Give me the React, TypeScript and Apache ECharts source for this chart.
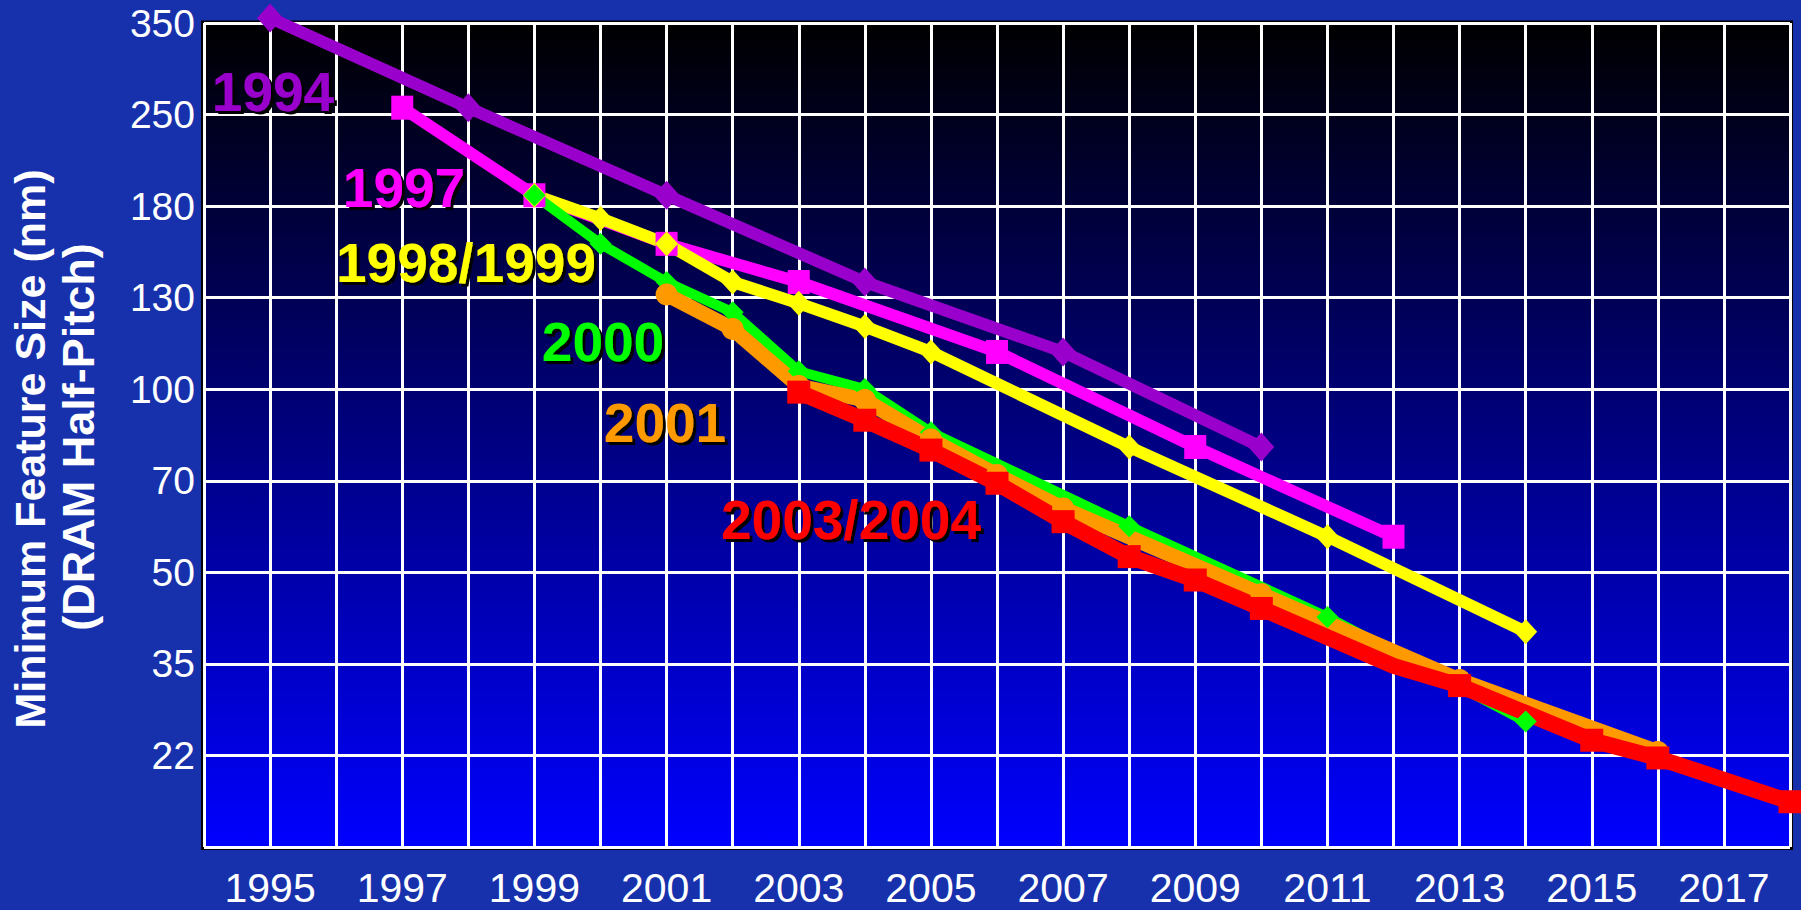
import React, { useEffect, useRef } from "react";
import * as echarts from "echarts";

// ---- data ----
const yTickLabels = ["", "22", "35", "50", "70", "100", "130", "180", "250", "350"];
const xMinYear = 1994;
const xMaxYear = 2018;
const logMin = 15.61;
const logMax = 343.5;

const seriesNames = ["1994", "1997", "1998/1999", "2000", "2001", "2003/2004"];

const years1994 = [1995, 1998, 2001, 2004, 2007, 2010];
const values1994 = [350, 250, 180, 130, 100, 70];

const years1997 = [1997, 1999, 2001, 2003, 2006, 2009, 2012];
const values1997 = [250, 180, 150, 130, 100, 70, 50];

const years1999 = [1999, 2000, 2001, 2002, 2003, 2004, 2005, 2008, 2011, 2014];
const values1999 = [180, 165, 150, 130, 120, 110, 100, 70, 50, 35];

const years2000 = [1999, 2000, 2001, 2002, 2003, 2004, 2005, 2008, 2011, 2014];
const values2000 = [180, 150, 130, 116, 93, 87, 74, 52, 37, 25];

const years2001 = [2001, 2002, 2003, 2004, 2005, 2006, 2007, 2010, 2013, 2016];
const values2001 = [124, 109, 88, 83.5, 72, 63, 55.6, 40.3, 29.2, 22.3];

const years2003 = [2003, 2004, 2005, 2006, 2007, 2008, 2009, 2010, 2012, 2013, 2015, 2016, 2018];
const values2003 = [86, 77.4, 69.2, 61.1, 52.9, 46.4, 42.5, 38.2, 30.8, 28.6, 23.3, 21.8, 18.5];
const unmarkedYears2003 = [2012];

const FONT = '"Liberation Sans", Arial, Helvetica, sans-serif';

function pairs(xs: number[], ys: number[], unmarked: number[] = []) {
  return xs.map((x, i) =>
    unmarked.indexOf(x) >= 0 ? { value: [x, ys[i]], symbol: "none" } : { value: [x, ys[i]] }
  );
}

export default function App() {
  const ref = useRef<HTMLDivElement>(null);

  useEffect(() => {
    document.body.style.margin = "0";
    document.body.style.background = "#1731ad";
    if (!ref.current) return;
    const chart = echarts.init(ref.current, undefined, { renderer: "svg" });

    const mk = (
      name: string,
      xs: number[],
      ys: number[],
      color: string,
      width: number,
      symbol: string,
      size: number | number[],
      unmarked: number[] = []
    ) => ({
      name,
      type: "line",
      xAxisIndex: 0,
      yAxisIndex: 1,
      data: pairs(xs, ys, unmarked),
      clip: false,
      symbol,
      symbolSize: size,
      showAllSymbol: true,
      lineStyle: { color, width },
      itemStyle: { color, borderWidth: 0 },
      emphasis: { disabled: true },
      z: 3,
    });

    const labelStyle = (text: string, color: string) => ({
      text,
      fill: color,
      font: `bold 55px ${FONT}`,
      align: "center",
      verticalAlign: "middle",
      textShadowColor: "#000",
      textShadowOffsetX: 3,
      textShadowOffsetY: 3,
      textShadowBlur: 0.5,
    });

    const option: any = {
      animation: false,
      backgroundColor: "#1731ad",
      grid: { left: 204, top: 23, width: 1586, height: 824, show: false },
      graphic: [
        { type: "rect", z: -2, silent: true, shape: { x: 201, y: 20.5, width: 1592, height: 829.5 }, style: { fill: "#000" } },
        {
          type: "rect",
          z: -1,
          silent: true,
          shape: { x: 204, y: 23, width: 1586, height: 824 },
          style: {
            fill: new echarts.graphic.LinearGradient(0, 0, 0, 1, [
              { offset: 0, color: "#000000" },
              { offset: 1, color: "#0000ff" },
            ]),
          },
        },
        {
          type: "text", z: 100, x: 30, y: 449, rotation: Math.PI / 2,
          style: { text: "Minimum Feature Size (nm)", fill: "#fff", font: `bold 43px ${FONT}`, align: "center", verticalAlign: "middle" },
        },
        {
          type: "text", z: 100, x: 78, y: 437, rotation: Math.PI / 2,
          style: { text: "(DRAM Half-Pitch)", fill: "#fff", font: `bold 45px ${FONT}`, align: "center", verticalAlign: "middle" },
        },
        { type: "text", z: 100, x: 273, y: 92, style: labelStyle(seriesNames[0], "#9900cc") },
        { type: "text", z: 100, x: 404, y: 188, style: labelStyle(seriesNames[1], "#ff00ff") },
        { type: "text", z: 100, x: 466, y: 263, style: labelStyle(seriesNames[2], "#ffff00") },
        { type: "text", z: 100, x: 603, y: 342, style: labelStyle(seriesNames[3], "#00ff00") },
        { type: "text", z: 100, x: 665, y: 423, style: labelStyle(seriesNames[4], "#ff9900") },
        { type: "text", z: 100, x: 851, y: 520, style: labelStyle(seriesNames[5], "#ff0000") },
      ],
      xAxis: {
        type: "value",
        min: xMinYear,
        max: xMaxYear,
        interval: 1,
        axisLine: { show: false },
        axisTick: { show: false },
        splitLine: { show: true, lineStyle: { color: "#ffffff", width: 3 } },
        axisLabel: {
          color: "#fff",
          fontSize: 41,
          fontFamily: FONT,
          margin: 20,
          formatter: (v: number) => (v % 2 === 1 ? String(v) : ""),
        },
      },
      yAxis: [
        {
          type: "category",
          data: yTickLabels,
          boundaryGap: false,
          position: "left",
          axisLine: { show: false },
          axisTick: { show: false },
          axisLabel: { interval: 0, color: "#fff", fontSize: 39, fontFamily: FONT, margin: 9 },
          splitLine: { show: true, interval: 0, lineStyle: { color: "#ffffff", width: 3 } },
        },
        {
          type: "log",
          logBase: 10,
          min: logMin,
          max: logMax,
          position: "left",
          show: false,
          splitLine: { show: false },
        },
      ],
      series: [
        mk(seriesNames[0], years1994, values1994, "#9900cc", 12, "diamond", [26, 29]),
        mk(seriesNames[1], years1997, values1997, "#ff00ff", 12, "rect", [22, 24]),
        mk(seriesNames[2], years1999, values1999, "#ffff00", 12, "diamond", [23, 25]),
        mk(seriesNames[3], years2000, values2000, "#00ff00", 10, "diamond", [22, 22]),
        mk(seriesNames[4], years2001, values2001, "#ff9900", 15, "circle", 22),
        mk(seriesNames[5], years2003, values2003, "#ff0000", 16, "rect", [23, 23], unmarkedYears2003),
      ],
    };

    chart.setOption(option);
    return () => chart.dispose();
  }, []);

  return <div ref={ref} style={{ width: 1801, height: 910, position: "absolute", left: 0, top: 0 }} />;
}
